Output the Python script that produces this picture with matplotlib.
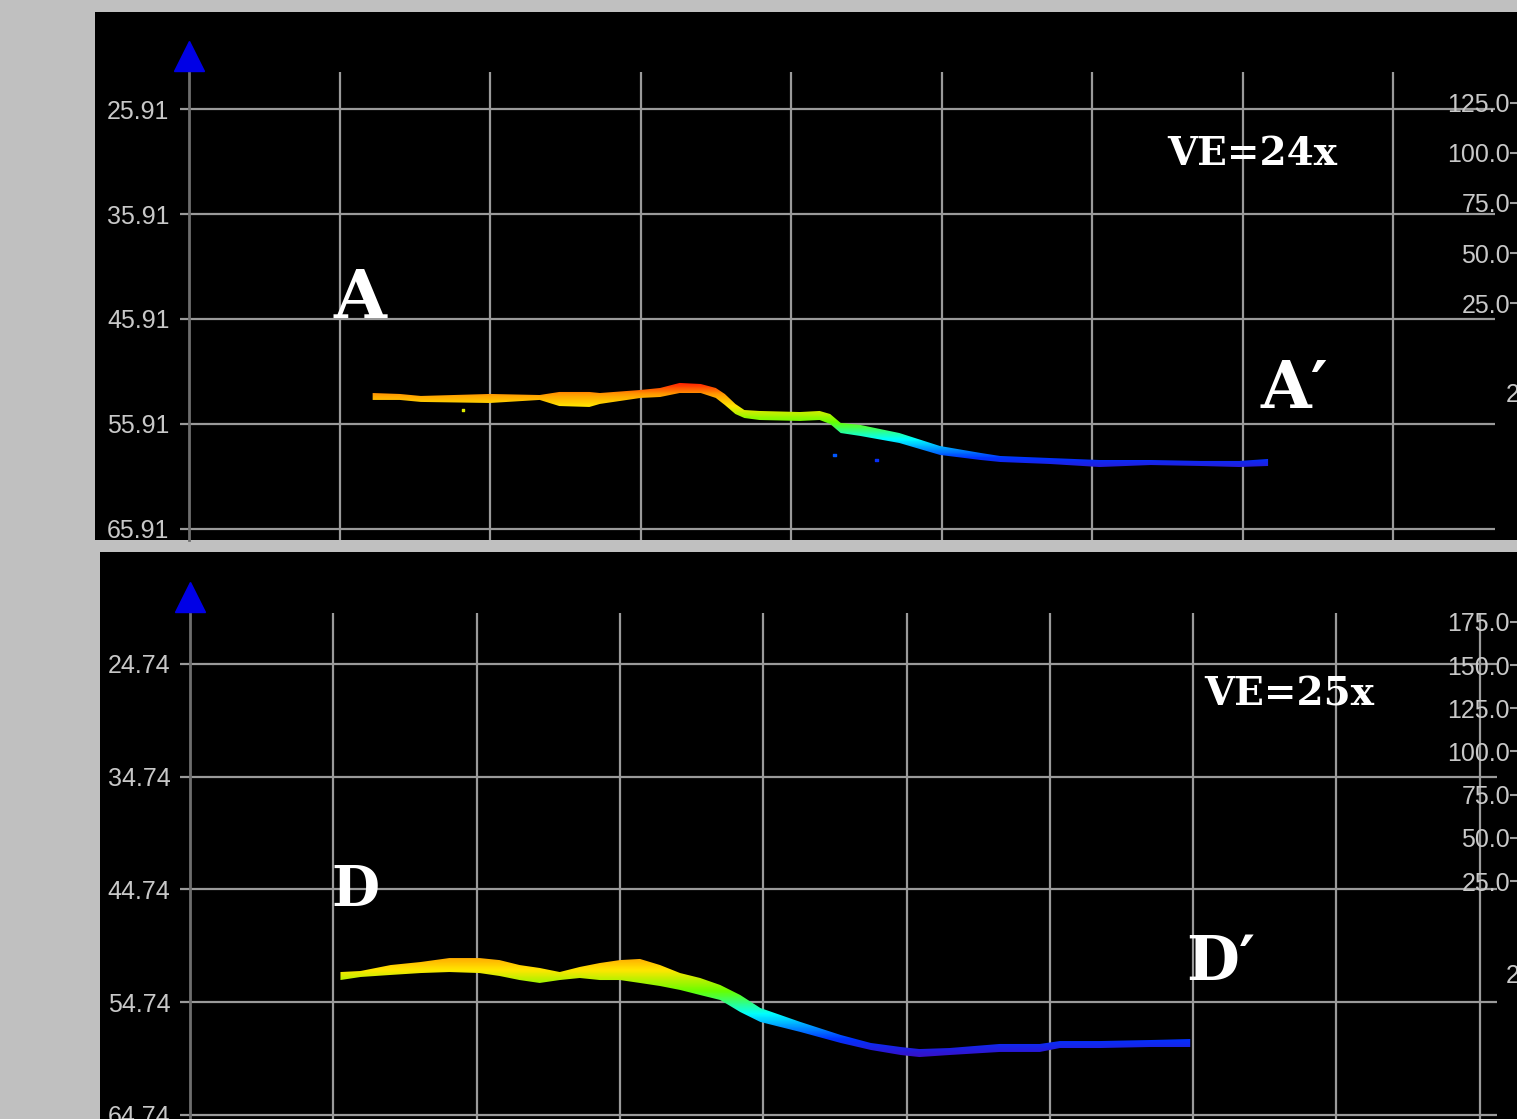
import numpy as np
import matplotlib
matplotlib.use('Agg')
import matplotlib.pyplot as plt
from matplotlib.colors import LinearSegmentedColormap, Normalize
from matplotlib.patches import Polygon

# ---- profile A-A' (distance along line, top/bottom of point band in depth) ----
dist_a = [122, 140, 154, 200, 233, 246, 266, 273, 300, 313, 326, 340, 350, 356, 363, 369,
          379, 406, 419, 426, 433, 446, 472, 499, 526, 539, 572, 605, 639, 672, 698, 717]
top_a = [52.96, 53.05, 53.24, 53.05, 53.15, 52.86, 52.86, 52.96, 52.67, 52.48, 52.00, 52.10,
         52.48, 53.05, 54.00, 54.58, 54.67, 54.77, 54.67, 54.96, 55.81, 56.00, 56.77, 58.01,
         58.67, 58.96, 59.15, 59.34, 59.34, 59.43, 59.43, 59.24]
bot_a = [53.62, 53.62, 53.81, 53.91, 53.62, 54.20, 54.29, 54.00, 53.43, 53.34, 52.96, 52.96,
         53.43, 54.10, 54.96, 55.34, 55.53, 55.62, 55.53, 55.91, 56.77, 57.05, 57.72, 58.86,
         59.34, 59.53, 59.72, 60.01, 59.82, 59.91, 60.01, 59.91]
stray_a_x = [182, 429, 457]
stray_a_y = [54.57, 58.86, 59.34]

# ---- profile D-D' ----
dist_d = [105, 119, 140, 161, 181, 202, 216, 230, 244, 258, 272, 286, 300, 314, 328, 342,
          356, 370, 384, 398, 426, 454, 475, 496, 509, 530, 565, 593, 607, 635, 670, 698]
top_d = [52.06, 51.97, 51.44, 51.17, 50.82, 50.82, 51.00, 51.44, 51.70, 52.06, 51.61, 51.26,
         51.00, 50.90, 51.44, 52.15, 52.59, 53.21, 54.10, 55.25, 56.49, 57.64, 58.35, 58.71,
         58.89, 58.80, 58.44, 58.44, 58.18, 58.18, 58.09, 58.00]
bot_d = [52.77, 52.50, 52.32, 52.15, 52.06, 52.15, 52.41, 52.77, 53.03, 52.77, 52.59, 52.77,
         52.77, 53.03, 53.30, 53.65, 54.10, 54.54, 55.61, 56.49, 57.38, 58.35, 58.97, 59.42,
         59.60, 59.42, 59.15, 59.15, 58.80, 58.80, 58.71, 58.71]

depth_ticks_a = [25.91, 35.91, 45.91, 55.91, 65.91]
depth_ticks_d = [24.74, 34.74, 44.74, 54.74, 64.74]
scale_ticks_a = [25.0, 50.0, 75.0, 100.0, 125.0]
scale_ticks_d = [25.0, 50.0, 75.0, 100.0, 125.0, 150.0, 175.0]

W, H = 1517, 1119
fig = plt.figure(figsize=(W / 100, H / 100), dpi=100)
fig.patch.set_facecolor('#c0c0c0')

cmap = LinearSegmentedColormap.from_list('prof', [
    (0.0, '#ff1a00'), (0.12, '#ff9900'), (0.25, '#ffe600'), (0.42, '#66ff00'),
    (0.6, '#00ffff'), (0.8, '#0033ff'), (1.0, '#5000b0')])

grid_c = '#9a9a9a'
lab_c = '#c8c8c8'
serif = ['DejaVu Serif', 'DejaVu Sans']
lab_size = 18


def frac(x0, y0, x1, y1):
    return [x0 / W, 1 - y1 / H, (x1 - x0) / W, (y1 - y0) / H]


def panel(box, xlim, ylim, gx0, gx1, vtop, spine_top, tri_y, yticks, vgrid,
          dist, top, bot, norm, labels):
    ax = fig.add_axes(frac(*box))
    ax.set_facecolor('black')
    for s in ['top', 'right', 'bottom']:
        ax.spines[s].set_visible(False)
    ax.spines['left'].set_position(('data', 0))
    ax.spines['left'].set_color('#6e6e6e')
    ax.spines['left'].set_linewidth(2)
    ax.spines['left'].set_bounds(ylim[0], spine_top)
    ax.set_xticks([])
    ax.set_yticks(yticks)
    ax.set_yticklabels(['%.2f' % t for t in yticks])
    ax.tick_params(axis='y', length=0, pad=14, labelcolor=lab_c, labelsize=lab_size)
    for t in ax.get_yticklabels():
        t.set_family('Liberation Sans')

    ax.hlines(yticks, gx0, gx1, color=grid_c, lw=1.6, zorder=1)
    ax.vlines(vgrid, vtop, ylim[0], color=grid_c, lw=1.6, zorder=1)
    ax.plot([0], [tri_y], marker='^', ms=21, color='#0000e6', clip_on=False, zorder=5)

    # colour the point band by depth
    grad = np.linspace(ylim[1], ylim[0], 400).reshape(-1, 1)
    im = ax.imshow(grad, extent=(xlim[0], xlim[1], ylim[1], ylim[0]), origin='lower',
                   cmap=cmap, norm=norm, aspect='auto', zorder=3)
    verts = list(zip(dist, top)) + list(zip(dist[::-1], bot[::-1]))
    poly = Polygon(verts, closed=True, facecolor='none', edgecolor='none')
    ax.add_patch(poly)
    im.set_clip_path(poly)

    for txt, x, y, size in labels:
        ax.text(x, y, txt, color='white', fontsize=size, fontweight='bold',
                family=serif, ha='left', va='baseline', zorder=6)

    ax.set_xlim(*xlim)
    ax.set_ylim(*ylim)
    return ax


def scale_axis(box, ylim, ticks, up_y, dn_y, two_y):
    cax = fig.add_axes(frac(*box))
    cax.patch.set_alpha(0)
    for s in ['top', 'right', 'bottom', 'left']:
        cax.spines[s].set_visible(False)
    cax.set_xticks([])
    cax.set_xlim(0, 1)
    cax.set_ylim(*ylim)
    cax.set_yticks(ticks)
    cax.set_yticklabels(['%.1f' % t for t in ticks])
    cax.tick_params(axis='y', length=5, width=1.5, color='#a0a0a0', pad=0,
                    labelcolor=lab_c, labelsize=lab_size)
    for t in cax.get_yticklabels():
        t.set_family('Liberation Sans')
    cax.plot([0.55], [up_y], marker='^', ms=21, color='#0000e6', clip_on=False)
    cax.plot([0.55], [dn_y], marker='v', ms=21, color='#0000e6', clip_on=False)
    cax.annotate('2', (0, two_y), xytext=(-11, 0), textcoords='offset pixels',
                 color=lab_c, fontsize=lab_size, family='Liberation Sans',
                 ha='left', va='center', annotation_clip=False)
    return cax


# top panel (A-A'), 150.5 px per 100 distance units, 10.5 px per depth unit
ax1 = panel((95, 12, W, 540), (-62.5, 882.4), (66.96, 16.67), -6.0, 867.8, 22.39, 22.2, 20.86,
            depth_ticks_a, [100, 200, 300, 400, 500, 600, 700, 800],
            dist_a, top_a, bot_a, Normalize(52.0, 61.0),
            [('A', 96, 45.82, 49), ("A\u2032", 712, 54.39, 47), ('VE=24x', 650, 31.24, 28)])
ax1.scatter(stray_a_x, stray_a_y, s=4, c=stray_a_y, cmap=cmap, norm=Normalize(52.0, 61.0),
            marker='s', zorder=3)
scale_axis((W, 60, W + 30, 365), (-6.0, 146.5), scale_ticks_a, 144.0, -8.0, -21.0)

# bottom panel (D-D'), 143.3 px per 100 distance units, 11.275 px per depth unit
ax2 = panel((100, 552, W, H), (-62.8, 926.0), (65.095, 14.807), -7.0, 912.1, 20.22, 19.95, 18.80,
            depth_ticks_d, [100, 200, 300, 400, 500, 600, 700, 800, 900],
            dist_d, top_d, bot_d, Normalize(49.1, 60.3),
            [('D', 99, 46.2, 40), ("D\u2032", 695, 52.77, 44), ('VE=25x', 708, 28.38, 28)])
scale_axis((W, 575, W + 30, 945), (-12.06, 202.2), scale_ticks_d, 189.0, -23.0, -30.0)

fig.savefig('out.png', dpi=100, facecolor=fig.get_facecolor())
